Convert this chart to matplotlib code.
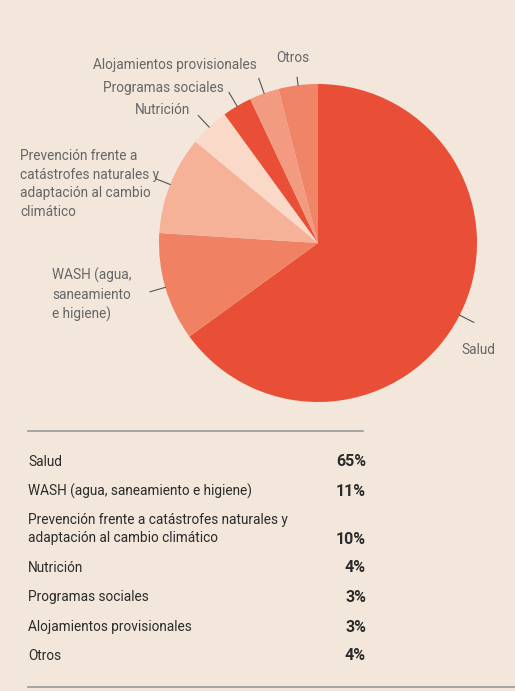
import numpy as np
import matplotlib
matplotlib.use("Agg")
import matplotlib.pyplot as plt
from matplotlib.lines import Line2D

# datos
categorias = ["Salud", "WASH (agua, saneamiento e higiene)",
              "Prevención frente a catástrofes naturales y adaptación al cambio climático",
              "Nutrición", "Programas sociales", "Alojamientos provisionales", "Otros"]
valores = [65, 11, 10, 4, 3, 3, 4]

# etiquetas del pastel y de la tabla
etiquetas_pastel = ["Salud", "WASH (agua,\nsaneamiento\ne higiene)",
                    "Prevención frente a\ncatástrofes naturales y\nadaptación al cambio\nclimático",
                    "Nutrición", "Programas sociales", "Alojamientos provisionales", "Otros"]
etiquetas_tabla = ["Salud", "WASH (agua, saneamiento e higiene)",
                   "Prevención frente a catástrofes naturales y\nadaptación al cambio climático",
                   "Nutrición", "Programas sociales", "Alojamientos provisionales", "Otros"]

colores = ["#e94f37", "#f08263", "#f6b199", "#fad9c9", "#e94f37", "#f29b80", "#f08466"]
fondo = "#f3e7dc"

W, H = 515, 691
plt.rcParams['font.family'] = ['Roboto', 'DejaVu Sans']
fs = 9.8

fig = plt.figure(figsize=(W / 100, H / 100), dpi=100, facecolor=fondo)

def fx(px):
    return px / W

def fy(py):
    return 1 - py / H

# pastel: centro (318, 243), radio 159 px
cx, cy, r = 318, 243, 159
ax = fig.add_axes([fx(cx - r), fy(cy + r), 2 * r / W, 2 * r / H])
ax.set_facecolor(fondo)
wedges, _ = ax.pie(valores, colors=colores, startangle=90, counterclock=False,
                   radius=1, wedgeprops=dict(linewidth=0))
ax.set_xlim(-1, 1)
ax.set_ylim(-1, 1)
ax.set_aspect("equal")
ax.axis("off")

# posiciones de las etiquetas (px), alineacion, largo de la guia
pos_texto = [(461, 350, "left"), (52, 295, "left"), (20, 184, "left"),
             (190, 110, "right"), (224, 88, "right"), (257, 65, "right"), (293, 58, "center")]
largo = [1.1, 1.1, 1.1, 1.1, 1.1, 1.1, 1.05]

gris = "#666666"
acum = np.cumsum([0] + valores[:-1])
total = sum(valores)
for i, w in enumerate(wedges):
    ang = np.deg2rad(90 - (acum[i] + valores[i] / 2) / total * 360)
    x0, y0 = np.cos(ang) * 1.0, np.sin(ang) * 1.0
    x1, y1 = np.cos(ang) * largo[i], np.sin(ang) * largo[i]
    ax.plot([x0, x1], [y0, y1], color="#555555", lw=0.8, clip_on=False)
    tx, ty, ha = pos_texto[i]
    fig.text(fx(tx), fy(ty), etiquetas_pastel[i], ha=ha, va="center",
             fontsize=fs, color=gris, linespacing=1.4)

# tabla
fig.add_artist(Line2D([fx(28), fx(363)], [fy(431), fy(431)], color="#9a9a9a", lw=1.2))
fig.add_artist(Line2D([fx(28), fx(515)], [fy(687), fy(687)], color="#9a9a9a", lw=1.2))

tinta = "#2b2b2b"
filas_y = [462, 491, 529, 568, 597, 627, 656]
for i in range(len(categorias)):
    y = filas_y[i]
    y_pct = y + 10 if "\n" in etiquetas_tabla[i] else y
    fig.text(fx(28), fy(y), etiquetas_tabla[i], ha="left", va="center",
             fontsize=fs, color=tinta, linespacing=1.4)
    fig.text(fx(366), fy(y_pct), f"{valores[i]}%", ha="right", va="center",
             fontsize=11.5, color=tinta, fontweight="bold")

fig.savefig("out.png", dpi=100, facecolor=fondo)
